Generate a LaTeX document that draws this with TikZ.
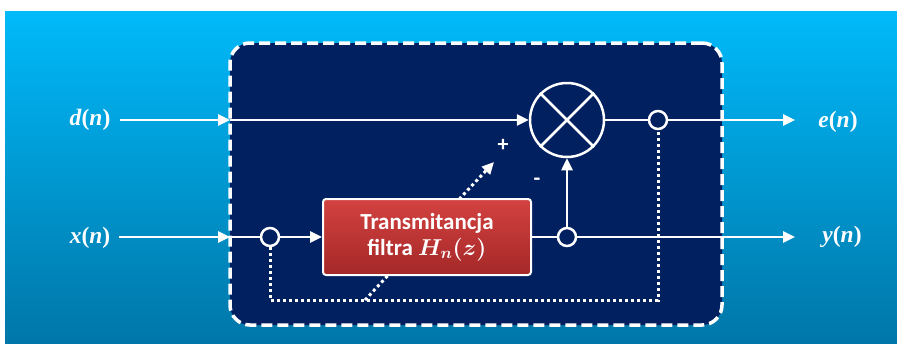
\documentclass[tikz,border=0pt]{standalone}
\usepackage{fix-cm}
\usepackage{amsmath,bm}
\usepackage{fontspec}
\setmainfont{Carlito}
\newfontfamily\labfont{Liberation Serif}
\newcommand{\lab}[1]{{\labfont\bfseries\itshape #1\/}{\labfont\bfseries(}{\labfont\bfseries\itshape n\/}{\labfont\bfseries)}}
\usetikzlibrary{arrows.meta}
\definecolor{bgtop}{RGB}{0,186,250}
\definecolor{bgbot}{RGB}{0,118,168}
\definecolor{navy}{RGB}{0,32,96}
\definecolor{redtop}{RGB}{210,66,64}
\definecolor{redbot}{RGB}{165,40,40}
\tikzset{
  ln/.style={white,line width=2.5pt},
  arr/.style={ln,-{Triangle[length=12pt,width=11pt]}},
  dotln/.style={white,line width=3pt,dash pattern=on 3pt off 3pt},
  junc/.style={circle,draw=white,fill=navy,line width=2.5pt,minimum size=18pt,inner sep=0pt},
  lbl/.style={text=white,inner sep=0pt,font=\fontsize{23.5}{26}\selectfont},
  sign/.style={text=white,font=\bfseries\fontsize{22}{24}\selectfont},
}
\begin{document}
\begin{tikzpicture}[x=1pt,y=-1pt]
\useasboundingbox (0,0) rectangle (897,343);
\fill[white] (0,0) rectangle (897,343);
\shade[top color=bgtop,bottom color=bgbot] (5,11) rectangle (897,343);
% panel
\node[draw=white,fill=navy,line width=3.5pt,dash pattern=on 11pt off 5pt,rounded corners=20pt,
  minimum width=492pt,minimum height=282pt,inner sep=0pt] (panel) at (476,184) {};
% coordinates
\coordinate (din) at (230,120);
\coordinate (xin) at (230,237);
\coordinate (eo) at (795,120);
\coordinate (yo) at (795,237);
\coordinate (b1) at (270,300);
\coordinate (b2) at (658,300);
\coordinate (ds) at (365,300);
\coordinate (de) at (494,162);
% labels
\node[lbl] (dl) at (90,120) {\lab{d}};
\node[lbl] (xl) at (90,238) {\lab{x}};
\node[lbl] (el) at (838,122) {\lab{e}};
\node[lbl] (yl) at (842,237) {\lab{y}};
% nodes
\node[circle,draw=white,line width=2.5pt,minimum size=74pt,inner sep=0pt] (sum) at (567,120) {};
\draw[ln] (sum.north west) -- (sum.south east);
\draw[ln] (sum.north east) -- (sum.south west);
\node[junc] (j1) at (658,120) {};
\node[junc] (j2) at (270,237) {};
\node[junc] (j3) at (567,237) {};
% dotted feedback
\draw[dotln] (j2.south) -- (b1) -- (b2) -- (j1.south);
\draw[dotln,-{Triangle[length=12pt,width=11pt]}] (ds) -- (de);
% filter box
\node[draw=white,line width=2pt,rounded corners=3pt,top color=redtop,bottom color=redbot,
  minimum width=208pt,minimum height=76pt,text=white,align=center,inner sep=0pt,
  font=\bfseries\fontsize{23}{26}\selectfont\boldmath] (filter) at (427,237)
  {Transmitancja\\filtra $H_n(z)$};
\node[sign] (plus) at (503,145) {+};
\node[sign] (minus) at (537,182) {-};
% connectors
\draw[arr] ([xshift=9pt]dl.east |- din) -- (din);
\draw[arr] (din) -- (sum.west);
\draw[ln] (sum.east) -- (j1.west);
\draw[arr] (j1.east) -- (eo);
\draw[arr] ([xshift=9pt]xl.east |- xin) -- (xin);
\draw[ln] (xin) -- (j2.west);
\draw[arr] (j2.east) -- (filter.west);
\draw[ln] (filter.east) -- (j3.west);
\draw[arr] (j3.north) -- (sum.south);
\draw[arr] (j3.east) -- (yo);
\end{tikzpicture}
\end{document}
